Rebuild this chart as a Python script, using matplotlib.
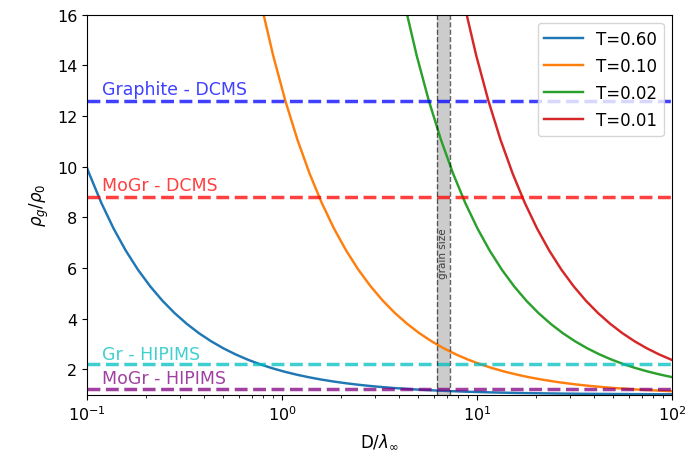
import matplotlib
matplotlib.use("Agg")
import matplotlib.pyplot as plt

# ---- data ----
labels = ["T=0.60", "T=0.10", "T=0.02", "T=0.01"]

x_t060 = [0.1, 0.10266, 0.11856, 0.13690, 0.15809, 0.18256, 0.21082, 0.24345, 0.28114,
          0.32464, 0.37490, 0.43292, 0.49993, 0.57731, 0.66667, 0.76985, 0.88902,
          1.02662, 1.18553, 1.36900, 1.58092, 1.82563, 2.10819, 2.43449, 2.81128,
          3.24649, 3.74892, 4.99930, 6.66667, 8.89020, 11.8553, 15.8092, 21.0819,
          28.1128, 37.4892, 49.993, 66.667, 88.902, 100.0]
y_t060 = [9.951, 9.720, 8.559, 7.553, 6.682, 5.927, 5.274, 4.707, 4.217,
          3.792, 3.422, 3.103, 2.826, 2.586, 2.378, 2.197, 2.040,
          1.904, 1.786, 1.683, 1.594, 1.516, 1.449, 1.390, 1.339,
          1.295, 1.256, 1.193, 1.146, 1.110, 1.083, 1.062, 1.047,
          1.035, 1.026, 1.020, 1.015, 1.011, 1.010]

x_t010 = [0.5061, 0.58444, 0.6747, 0.77937, 0.9, 1.0393, 1.2002, 1.38594, 1.6005,
          1.84818, 2.1342, 2.46458, 2.8461, 3.28657, 3.7954, 4.38273, 5.0611, 5.84442,
          6.749, 7.79369, 9.0, 10.393, 12.002, 13.8594, 16.005, 18.4817, 21.342,
          24.6461, 28.461, 32.8659, 37.952, 43.8276, 50.611, 67.49, 90.0, 100.0]
y_t010 = [24.78, 21.597, 18.84, 16.461, 14.40, 12.609, 11.06, 9.720, 8.559,
          7.553, 6.682, 5.927, 5.274, 4.707, 4.217, 3.792, 3.422, 3.103,
          2.826, 2.586, 2.378, 2.197, 2.040, 1.904, 1.786, 1.683, 1.594,
          1.516, 1.449, 1.390, 1.339, 1.295, 1.256, 1.193, 1.146, 1.131]

x_t002 = [2.7557, 3.18197, 3.6745, 4.24323, 4.9, 5.65843, 6.5343, 7.54564, 8.7135,
          10.0623, 11.62, 13.4183, 15.495, 17.8935, 20.663, 23.8615, 27.555, 31.8197,
          36.745, 42.4323, 49.0, 56.5843, 65.343, 75.4566, 87.135, 100.0]
y_t002 = [24.78, 21.597, 18.84, 16.461, 14.40, 12.609, 11.06, 9.720, 8.559,
          7.553, 6.682, 5.927, 5.274, 4.707, 4.217, 3.792, 3.422, 3.103,
          2.826, 2.586, 2.378, 2.197, 2.040, 1.904, 1.786, 1.687]

x_t001 = [5.5672, 6.42886, 7.4235, 8.57306, 9.9, 11.4323, 13.202, 15.2453, 17.605,
          20.3301, 23.476, 27.1104, 31.307, 36.1522, 41.749, 48.2097, 55.672, 64.2886,
          74.239, 85.731, 99.0, 100.0]
y_t001 = [24.78, 21.597, 18.84, 16.461, 14.40, 12.609, 11.06, 9.720, 8.559,
          7.553, 6.682, 5.927, 5.274, 4.707, 4.217, 3.792, 3.422, 3.103,
          2.826, 2.586, 2.378, 2.364]

ref_names = ["Graphite - DCMS", "MoGr - DCMS", "Gr - HIPIMS", "MoGr - HIPIMS"]
ref_values = [12.6, 8.8, 2.2, 1.2]
ref_colors = ["blue", "red", "c", "purple"]

grain_lo, grain_hi = 6.2, 7.3

# ---- plot ----
plt.rcParams["font.size"] = 11.5
fig = plt.figure(figsize=(6.9, 4.6), dpi=100)
ax = fig.add_axes([0.1261, 0.1402, 0.8478, 0.8257])

series = [(x_t060, y_t060), (x_t010, y_t010), (x_t002, y_t002), (x_t001, y_t001)]
for i, ((xs, ys), lab) in enumerate(zip(series, labels)):
    ax.plot(xs, ys, color=f"C{i}", lw=1.75, label=lab, solid_joinstyle="round")

label_offsets = [0.1, 0.1, 0.06, 0.1]
for name, val, col, off in zip(ref_names, ref_values, ref_colors, label_offsets):
    ax.axhline(val, color=col, ls="--", lw=2.5, alpha=0.75)
    ax.text(0.12, val + off, name, color=col, alpha=0.75, fontsize=12.5,
            ha="left", va="bottom")

ax.axvspan(grain_lo, grain_hi, color="gray", alpha=0.4, lw=0)
ax.axvline(grain_lo, color="k", ls="--", lw=1, alpha=0.6)
ax.axvline(grain_hi, color="k", ls="--", lw=1, alpha=0.6)
ax.text((grain_lo * grain_hi) ** 0.5, 6.6, "grain size", rotation=90, fontsize=7.5,
        ha="center", va="center", color="k", alpha=0.7)

ax.set_xscale("log")
ax.set_xlim(0.1, 100)
ax.set_ylim(1, 16)
ax.set_yticks([2, 4, 6, 8, 10, 12, 14, 16])
ax.set_xlabel(r"D/$\lambda_\infty$", fontsize=12, labelpad=6)
ax.set_ylabel(r"$\rho_g/\rho_0$", fontsize=12)
ax.legend(loc="upper right", fontsize=12, handlelength=2.3, labelspacing=0.55)

fig.savefig("out.png", dpi=100)
